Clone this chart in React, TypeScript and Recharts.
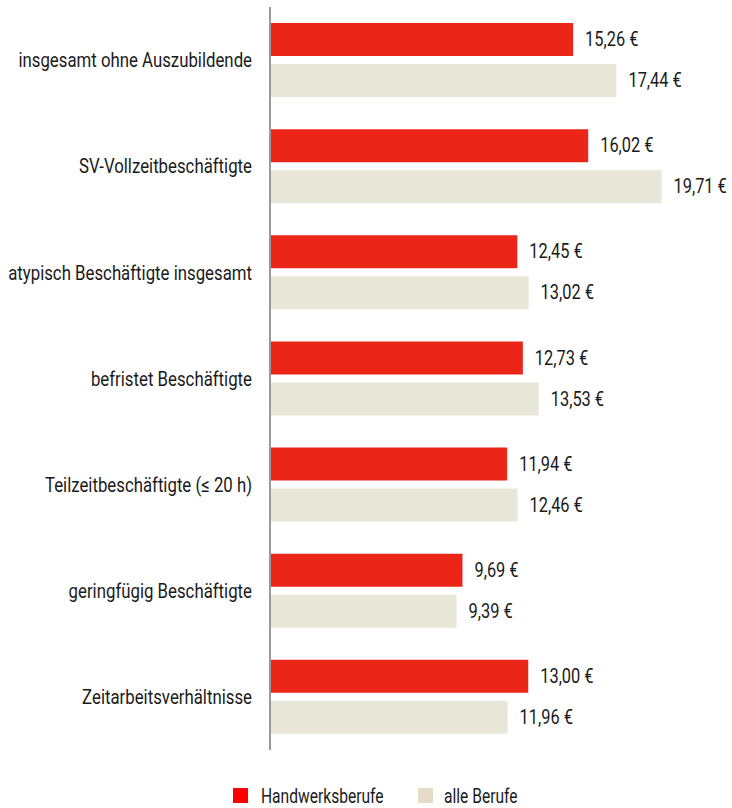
import { BarChart, Bar, XAxis, YAxis, Legend, LabelList } from "recharts";

const categories = [
  "insgesamt ohne Auszubildende",
  "SV-Vollzeitbeschäftigte",
  "atypisch Beschäftigte insgesamt",
  "befristet Beschäftigte",
  "Teilzeitbeschäftigte (≤ 20 h)",
  "geringfügig Beschäftigte",
  "Zeitarbeitsverhältnisse",
];
const handwerk = [15.26, 16.02, 12.45, 12.73, 11.94, 9.69, 13.0];
const alle = [17.44, 19.71, 13.02, 13.53, 12.46, 9.39, 11.96];
const seriesNames = ["Handwerksberufe", "alle Berufe"];

const data = categories.map((name, i) => ({ name, handwerk: handwerk[i], alle: alle[i] }));

const FONT = "Roboto, 'Noto Sans', sans-serif";
const INK = "#1a1a1a";
const fmt = (v: any) => `${Number(v).toFixed(2).replace(".", ",")} €`;

// Roboto squeezed horizontally to mimic the condensed original
const CategoryTick = ({ x, y, payload }: any) => (
  <text
    transform={`translate(${x},${y}) scale(0.8,1)`}
    textAnchor="end"
    dominantBaseline="central"
    fontFamily={FONT}
    fontSize={21}
    fill={INK}
  >
    {payload.value}
  </text>
);

const ValueLabel = ({ x, y, width, height, value }: any) => (
  <text
    transform={`translate(${x + width + 12},${y + height / 2}) scale(0.78,1)`}
    dominantBaseline="central"
    fontFamily={FONT}
    fontSize={21}
    fill={INK}
  >
    {fmt(value)}
  </text>
);

const CustomLegend = () => (
  <svg width={707} height={56} style={{ display: "block" }}>
    <rect x={233} y={38} width={15} height={15} fill="#ff0000" />
    <text transform="translate(261,45.5) scale(0.78,1)" dominantBaseline="central" fontFamily={FONT} fontSize={20} fill={INK}>
      {seriesNames[0]}
    </text>
    <rect x={418} y={38} width={15} height={15} fill="#e5dcc8" />
    <text transform="translate(444,45.5) scale(0.78,1)" dominantBaseline="central" fontFamily={FONT} fontSize={20} fill={INK}>
      {seriesNames[1]}
    </text>
  </svg>
);

export default function App() {
  return (
    <div style={{ position: "absolute", left: 0, top: 0, width: 732, height: 808 }}>
      <BarChart
        width={732}
        height={808}
        data={data}
        layout="vertical"
        margin={{ top: 7, right: 25, left: 0, bottom: 2 }}
        barSize={33}
        barGap={8}
      >
        <XAxis type="number" domain={[0, 22]} hide />
        <YAxis
          type="category"
          dataKey="name"
          width={270}
          axisLine={{ stroke: "#9a9a9a", strokeWidth: 2 }}
          tickLine={false}
          tickMargin={12}
          tick={<CategoryTick />}
          interval={0}
        />
        <Legend verticalAlign="bottom" content={<CustomLegend />} />
        <Bar dataKey="handwerk" name={seriesNames[0]} fill="#ec2519" isAnimationActive={false}>
          <LabelList dataKey="handwerk" content={<ValueLabel />} />
        </Bar>
        <Bar dataKey="alle" name={seriesNames[1]} fill="#e8e6d6" isAnimationActive={false}>
          <LabelList dataKey="alle" content={<ValueLabel />} />
        </Bar>
      </BarChart>
    </div>
  );
}
